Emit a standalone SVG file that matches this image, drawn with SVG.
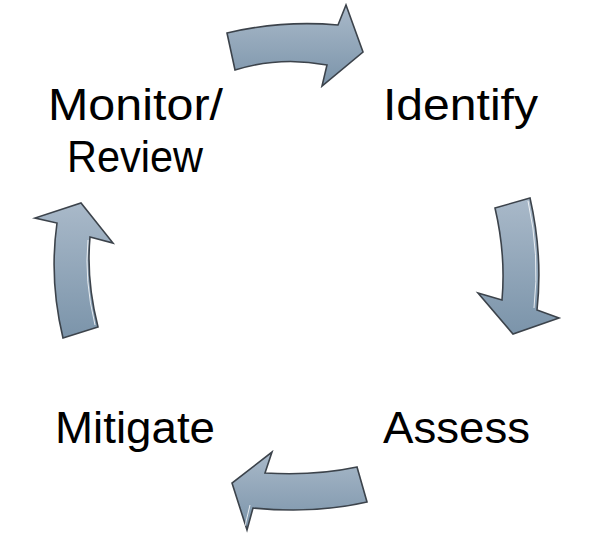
<svg xmlns="http://www.w3.org/2000/svg" width="600" height="544" viewBox="0 0 600 544">
<defs>
<linearGradient id="g" x1="0" y1="0" x2="0" y2="1">
<stop offset="0" stop-color="#a9b9c9"/>
<stop offset="1" stop-color="#7b94aa"/>
</linearGradient>
</defs>
<style>
.arr{fill:url(#g);stroke:#3c434b;stroke-width:1.6;stroke-linejoin:miter}
.hl{fill:none;stroke:#ffffff;stroke-width:1;opacity:0.8}
.lbl{font-family:"Liberation Sans","Open Sans",sans-serif;font-size:44px;fill:#000000}
</style>
<rect width="600" height="544" fill="#ffffff"/>
<g id="connectors">
<g id="arrow-top">
<path class="arr" d="M227,33 Q282,20 338,25 L346,5 L363,52 L322,86 L327,65 Q280,56 235,70 Z"/>
</g>
<g id="arrow-right">
<path class="arr" d="M495,208 L530,198 Q543,255 537,310 L559,318 L513,334 L478,293 L502,300 Q506,255 495,208 Z"/>
<path class="hl" d="M528,201 Q540,255 534,308"/>
</g>
<g id="arrow-bottom">
<path class="arr" d="M357,467 Q315,476 265,473 L272,452 L232,483 L247,530 L253,508 Q315,514 367,502 Z"/>
<path class="hl" d="M250,505 L245,526"/>
</g>
<g id="arrow-left">
<path class="arr" d="M63,338 L98,327 Q86,280 90,237 L113,243 L81,203 L35,218 L57,223 Q49,280 63,338 Z"/>
<path class="hl" d="M95,325 Q84,280 88,240"/>
</g>
</g>
<g id="node-monitor">
<text class="lbl" x="48" y="120" textLength="175" lengthAdjust="spacingAndGlyphs">Monitor/</text>
<text class="lbl" x="67" y="172" textLength="136" lengthAdjust="spacingAndGlyphs">Review</text>
</g>
<g id="node-identify">
<text class="lbl" x="383" y="120" textLength="155" lengthAdjust="spacingAndGlyphs">Identify</text>
</g>
<g id="node-assess">
<text class="lbl" x="383" y="443" textLength="147" lengthAdjust="spacingAndGlyphs">Assess</text>
</g>
<g id="node-mitigate">
<text class="lbl" x="55" y="443" textLength="160" lengthAdjust="spacingAndGlyphs">Mitigate</text>
</g>
</svg>
